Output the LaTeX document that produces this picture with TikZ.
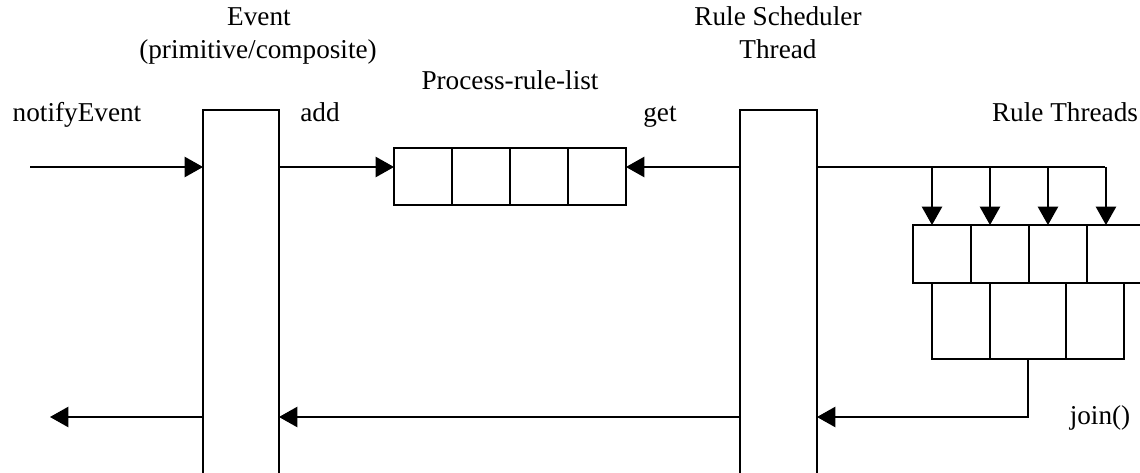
\documentclass[tikz,border=0pt]{standalone}
\usepackage{fontspec}
\setmainfont{Liberation Serif}
\usetikzlibrary{positioning,arrows.meta}

\tikzset{
	arr/.style={-{Triangle[length=0.37cm,width=0.41cm]}, line width=0.75pt},
	cell/.style={draw, rectangle, line width=0.75pt, minimum width=1.16cm, minimum height=1.14cm, inner sep=0pt, outer sep=0pt},
	bar/.style={draw, rectangle, line width=0.75pt, minimum height=7.6cm, inner sep=0pt, outer sep=0pt},
	lbl/.style={inner sep=0pt, anchor=base, font=\fontsize{15.5}{18}\selectfont}
}

\begin{document}
\begin{tikzpicture}[x=0.02cm, y=-0.02cm]
				\clip (0,0) rectangle (1140,473);

				% Event and scheduler bars
				\node[bar, minimum width=1.52cm] (event) at (241,300) {};
				\node[bar, minimum width=1.54cm] (sched) at (778.5,300) {};
				\node[lbl] (eventlbl) at (259,26) {Event};
				\node[lbl] (eventsub) at (258,59) {(primitive/composite)};
				\node[lbl] (schedlbl) at (778,26) {Rule Scheduler};
				\node[lbl] (schedsub) at (778,59) {Thread};

				% Process-rule-list
				\node[cell] (q1) at (423,176.5) {};
				\node[cell, right=0pt of q1] (q2) {};
				\node[cell, right=0pt of q2] (q3) {};
				\node[cell, right=0pt of q3] (q4) {};
				\node[lbl] (qlbl) at (510,90) {Process-rule-list};

				% Rule threads
				\node[cell, minimum height=1.16cm] (t1) at (942,254) {};
				\node[cell, minimum height=1.16cm, right=0pt of t1] (t2) {};
				\node[cell, minimum height=1.16cm, right=0pt of t2] (t3) {};
				\node[cell, minimum height=1.16cm, right=0pt of t3] (t4) {};
				\node[cell, minimum height=1.52cm] (w1) at (961,321) {};
				\node[cell, minimum height=1.52cm, minimum width=1.52cm, right=0pt of w1] (w2) {};
				\node[cell, minimum height=1.52cm, right=0pt of w2] (w3) {};
				\node[lbl] (tlbl) at (1065,122) {Rule Threads};

				% Incoming event
				\coordinate (in) at (30,167);
				\node[lbl] (notify) at (77,122) {notifyEvent};
				\draw[arr] (in) -- (in -| event.west);
				\draw[arr] (event.east |- in) -- (q1.west |- in);
				\node[lbl] (addlbl) at (320,122) {add};
				\draw[arr] (sched.west |- in) -- (q4.east |- in);
				\node[lbl] (getlbl) at (660,122) {get};

				% Fork into rule threads
				\coordinate (fork) at (1105,167);
				\draw[line width=0.75pt] (sched.east |- in) -- (fork);
				\foreach \t in {t1,t2,t3,t4}
					\draw[arr] ([xshift=-0.2cm]\t.north |- fork) -- ([xshift=-0.2cm]\t.north);

				% Join and return
				\coordinate (out) at (50,417);
				\draw[arr] (w2.south) |- (sched.east |- out);
				\node[lbl] (joinlbl) at (1100,424) {join()};
				\draw[arr] (sched.west |- out) -- (event.east |- out);
				\draw[arr] (event.west |- out) -- (out);
			\end{tikzpicture}
\end{document}
